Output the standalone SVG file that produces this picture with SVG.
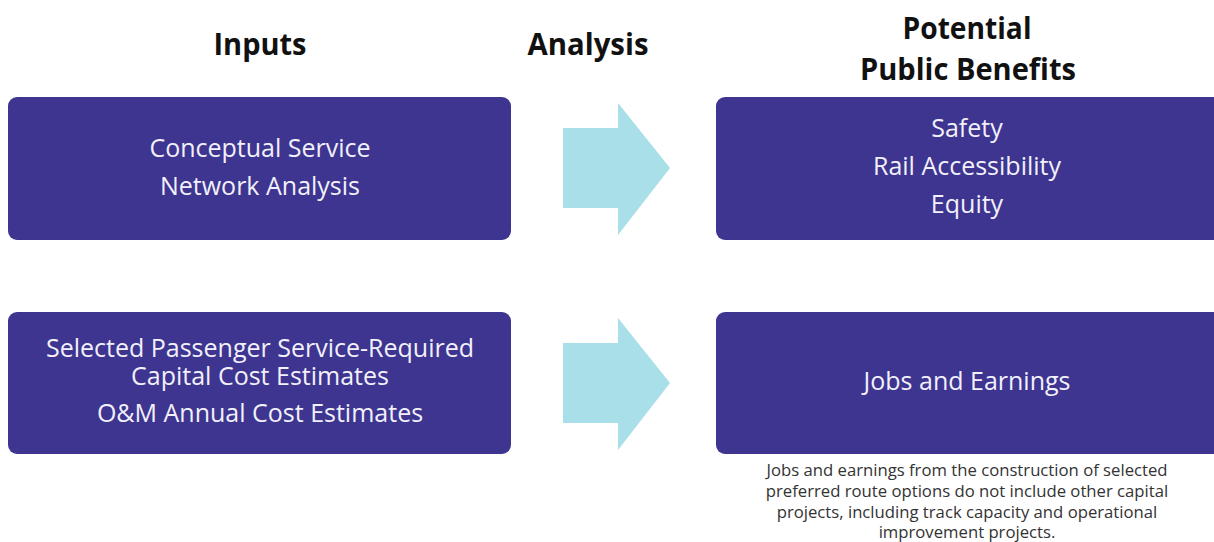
<svg xmlns="http://www.w3.org/2000/svg" width="1214" height="542" viewBox="0 0 1214 542">
<style>
.title{font-family:"Open Sans","Liberation Sans",sans-serif;font-weight:700;font-size:31px;fill:#111;text-anchor:middle}
.box{fill:#3D3590}
.bt{font-family:"Open Sans","Liberation Sans",sans-serif;font-size:25px;fill:#F2F0FA;text-anchor:middle}
.arrow{fill:#A8DFE9}
.note{font-family:"Open Sans","Liberation Sans",sans-serif;font-size:16.7px;fill:#333;text-anchor:middle}
</style>
<rect width="1214" height="542" fill="#fff"/>
<g id="headers">
<text class="title" x="260" y="55" textLength="93" lengthAdjust="spacingAndGlyphs">Inputs</text>
<text class="title" x="588" y="55" textLength="121" lengthAdjust="spacingAndGlyphs">Analysis</text>
<text class="title" x="967" y="39" textLength="129" lengthAdjust="spacingAndGlyphs">Potential</text>
<text class="title" x="968" y="80" textLength="216" lengthAdjust="spacingAndGlyphs">Public Benefits</text>
</g>
<g id="input1">
<rect class="box" x="8" y="97" width="503" height="143" rx="9"/>
<text class="bt" x="260" y="157">Conceptual Service</text>
<text class="bt" x="260" y="195">Network Analysis</text>
</g>
<g id="input2">
<rect class="box" x="8" y="312" width="503" height="142" rx="9"/>
<text class="bt" x="260" y="357">Selected Passenger Service-Required</text>
<text class="bt" x="260" y="385">Capital Cost Estimates</text>
<text class="bt" x="260" y="422">O&amp;M Annual Cost Estimates</text>
</g>
<g id="benefit1">
<rect class="box" x="716" y="97" width="510" height="143" rx="9"/>
<text class="bt" x="967" y="137">Safety</text>
<text class="bt" x="967" y="175">Rail Accessibility</text>
<text class="bt" x="967" y="213">Equity</text>
</g>
<g id="benefit2">
<rect class="box" x="716" y="312" width="510" height="142" rx="9"/>
<text class="bt" x="967" y="390">Jobs and Earnings</text>
</g>
<g id="connectors">
<polygon class="arrow" points="563,128 618,128 618,103 670,168 618,235 618,208 563,208"/>
<polygon class="arrow" points="563,343 618,343 618,318 670,383 618,450 618,423 563,423"/>
</g>
<g id="note">
<text class="note" x="967" y="476">Jobs and earnings from the construction of selected</text>
<text class="note" x="967" y="497">preferred route options do not include other capital</text>
<text class="note" x="967" y="518">projects, including track capacity and operational</text>
<text class="note" x="967" y="538">improvement projects.</text>
</g>
</svg>
